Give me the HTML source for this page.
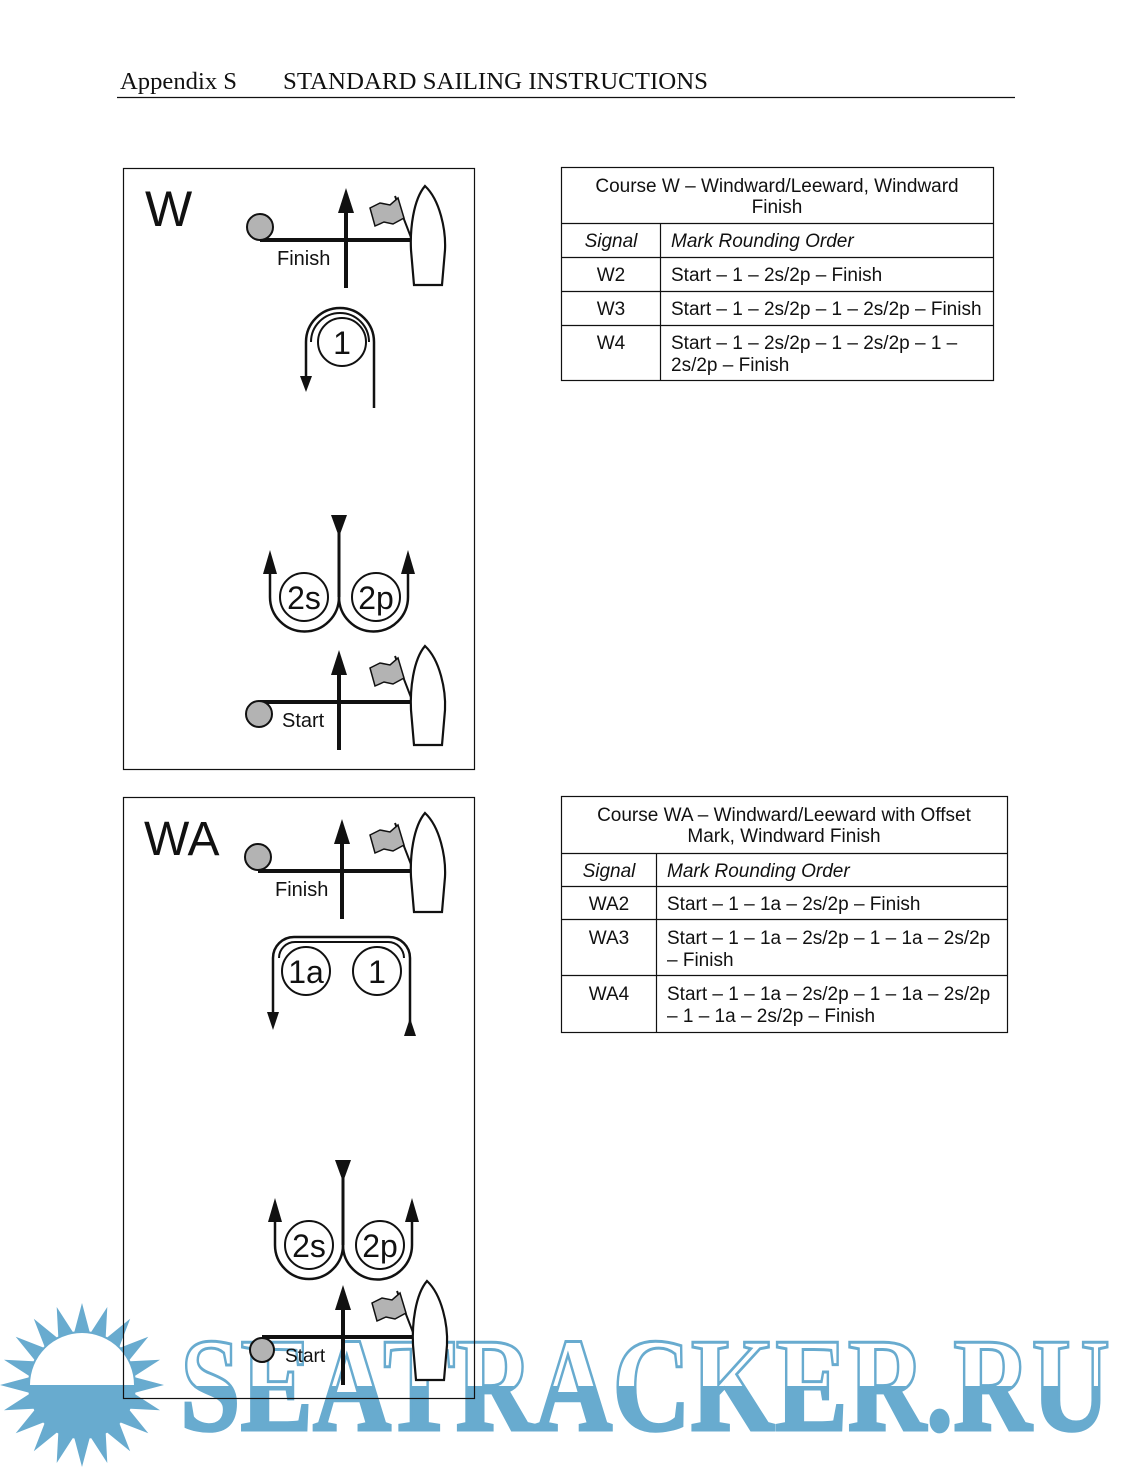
<!DOCTYPE html>
<html><head><meta charset="utf-8"><style>
html,body{margin:0;padding:0;background:#fff;}
svg{display:block;}
text{font-family:"Liberation Sans",sans-serif;fill:#111;}
.serif{font-family:"Liberation Serif",serif;}
</style></head><body>
<svg width="1127" height="1467" viewBox="0 0 1127 1467" xmlns="http://www.w3.org/2000/svg">
<defs>
<linearGradient id="wm" gradientUnits="userSpaceOnUse" x1="0" y1="1340" x2="0" y2="1432">
<stop offset="0" stop-color="#fff"/><stop offset="0.5" stop-color="#fff"/><stop offset="0.5" stop-color="#68abcf"/><stop offset="1" stop-color="#68abcf"/>
</linearGradient>
<g id="vert">
<line x1="0" y1="-30" x2="0" y2="48" stroke="#111" stroke-width="4"/>
<polygon points="0,-52 -8,-27 8,-27" fill="#111"/>
</g>
<g id="boat">
<line x1="-17" y1="-44" x2="0" y2="0" stroke="#111" stroke-width="2"/>
<polygon points="-42,-32 -32,-37 -22,-35 -14,-42 -8,-22 -19,-16 -28,-18 -37,-14" fill="#b3b3b3" stroke="#111" stroke-width="1.5"/>
<path d="M13 -54 C28 -40 34 -10 33 10 L30 45 L2 45 L-1 10 C-2 -10 1 -40 13 -54 Z" fill="#fff" stroke="#111" stroke-width="2.2"/>
</g>
</defs>

<!-- header -->
<text class="serif" x="120" y="89" font-size="24" textLength="117" lengthAdjust="spacingAndGlyphs">Appendix S</text>
<text class="serif" x="283" y="89" font-size="24" textLength="425" lengthAdjust="spacingAndGlyphs">STANDARD SAILING INSTRUCTIONS</text>
<line x1="117" y1="97.5" x2="1015" y2="97.5" stroke="#111" stroke-width="1.3"/>

<!-- W box -->
<rect x="123.5" y="168.5" width="351" height="601" fill="none" stroke="#111" stroke-width="1.2"/>
<text x="145" y="226" font-size="50">W</text>
<line x1="260" y1="240" x2="412" y2="240" stroke="#111" stroke-width="4"/>
<circle cx="260" cy="227" r="13" fill="#b3b3b3" stroke="#111" stroke-width="2"/>
<use href="#vert" x="346" y="240"/>
<use href="#boat" x="412" y="240"/>
<text x="277" y="265" font-size="20">Finish</text>
<circle cx="342" cy="342" r="24" fill="none" stroke="#111" stroke-width="2"/>
<text x="342" y="354" font-size="32" text-anchor="middle">1</text>
<path d="M374 408 L374 342 A34 34 0 0 0 306 342 L306 382" fill="none" stroke="#111" stroke-width="2.5"/>
<path d="M369 342 A29 29 0 0 0 311 342" fill="none" stroke="#111" stroke-width="2"/>
<polygon points="306,392 300,376 312,376" fill="#111"/>
<!-- gate W -->
<line x1="339" y1="520" x2="339" y2="597" stroke="#111" stroke-width="3"/>
<polygon points="339,537 331,515 347,515" fill="#111"/>
<circle cx="304" cy="597" r="24" fill="none" stroke="#111" stroke-width="2"/>
<circle cx="376" cy="597" r="24" fill="none" stroke="#111" stroke-width="2"/>
<text x="304" y="609" font-size="32" text-anchor="middle">2s</text>
<text x="376" y="609" font-size="32" text-anchor="middle">2p</text>
<path d="M339 597 A34 34 0 0 1 270 597 L270 570" fill="none" stroke="#111" stroke-width="2.5"/>
<path d="M339 597 A34 34 0 0 0 408 597 L408 570" fill="none" stroke="#111" stroke-width="2.5"/>
<polygon points="270,550 263,574 277,574" fill="#111"/>
<polygon points="408,550 401,574 415,574" fill="#111"/>
<!-- start W -->
<line x1="260" y1="702" x2="412" y2="702" stroke="#111" stroke-width="4"/>
<circle cx="259" cy="714" r="13" fill="#b3b3b3" stroke="#111" stroke-width="2"/>
<use href="#vert" x="339" y="702"/>
<use href="#boat" x="412" y="700"/>
<text x="282" y="727" font-size="20">Start</text>

<!-- W table -->
<g stroke="#111" stroke-width="1.2" fill="none">
<rect x="561.5" y="167.5" width="432" height="213"/>
<line x1="561" y1="223.5" x2="994" y2="223.5"/>
<line x1="561" y1="257.5" x2="994" y2="257.5"/>
<line x1="561" y1="291.5" x2="994" y2="291.5"/>
<line x1="561" y1="325.5" x2="994" y2="325.5"/>
<line x1="660.5" y1="223" x2="660.5" y2="381"/>
</g>
<g font-size="19">
<text x="777" y="192" text-anchor="middle">Course W – Windward/Leeward, Windward</text>
<text x="777" y="213" text-anchor="middle">Finish</text>
<text x="611" y="247" text-anchor="middle" font-style="italic">Signal</text>
<text x="671" y="247" font-style="italic">Mark Rounding Order</text>
<text x="611" y="281" text-anchor="middle">W2</text>
<text x="671" y="281">Start – 1 – 2s/2p – Finish</text>
<text x="611" y="315" text-anchor="middle">W3</text>
<text x="671" y="315">Start – 1 – 2s/2p – 1 – 2s/2p – Finish</text>
<text x="611" y="349" text-anchor="middle">W4</text>
<text x="671" y="349">Start – 1 – 2s/2p – 1 – 2s/2p – 1 –</text>
<text x="671" y="371">2s/2p – Finish</text>
</g>

<!-- WA table -->
<g stroke="#111" stroke-width="1.2" fill="none">
<rect x="561.5" y="796.5" width="446" height="236"/>
<line x1="561" y1="853.5" x2="1008" y2="853.5"/>
<line x1="561" y1="886.5" x2="1008" y2="886.5"/>
<line x1="561" y1="919.5" x2="1008" y2="919.5"/>
<line x1="561" y1="975.5" x2="1008" y2="975.5"/>
<line x1="656.5" y1="853" x2="656.5" y2="1033"/>
</g>
<g font-size="19">
<text x="784" y="821" text-anchor="middle">Course WA – Windward/Leeward with Offset</text>
<text x="784" y="842" text-anchor="middle">Mark, Windward Finish</text>
<text x="609" y="877" text-anchor="middle" font-style="italic">Signal</text>
<text x="667" y="877" font-style="italic">Mark Rounding Order</text>
<text x="609" y="910" text-anchor="middle">WA2</text>
<text x="667" y="910">Start – 1 – 1a – 2s/2p – Finish</text>
<text x="609" y="944" text-anchor="middle">WA3</text>
<text x="667" y="944">Start – 1 – 1a – 2s/2p – 1 – 1a – 2s/2p</text>
<text x="667" y="966">– Finish</text>
<text x="609" y="1000" text-anchor="middle">WA4</text>
<text x="667" y="1000">Start – 1 – 1a – 2s/2p – 1 – 1a – 2s/2p</text>
<text x="667" y="1022">– 1 – 1a – 2s/2p – Finish</text>
</g>

<!-- watermark -->
<polygon fill="#68abcf" points="164,1385 133.4,1393.1 160,1410.3 128.3,1408.6 148.3,1433.2 118.8,1421.8 130.2,1451.3 105.6,1431.3 107.3,1463 90.1,1436.4 82,1467 73.9,1436.4 56.7,1463 58.4,1431.3 33.8,1451.3 45.2,1421.8 15.7,1433.2 35.7,1408.6 4,1410.3 30.6,1393.1 0,1385 30.6,1376.9 4,1359.7 35.7,1361.4 15.7,1336.8 45.2,1348.2 33.8,1318.7 58.4,1338.7 56.7,1307 73.9,1333.6 82,1303 90.1,1333.6 107.3,1307 105.6,1338.7 130.2,1318.7 118.8,1348.2 148.3,1336.8 128.3,1361.4 160,1359.7 133.4,1376.9"/>
<circle cx="82" cy="1385" r="54" fill="#68abcf"/>
<path d="M30 1385 A52 52 0 0 1 134 1385 Z" fill="#fff"/>
<text class="serif" x="180" y="1430" font-size="134" font-weight="bold" textLength="930" lengthAdjust="spacingAndGlyphs" style="fill:url(#wm)" stroke="#68abcf" stroke-width="3">SEATRACKER.RU</text>

<!-- WA box -->
<rect x="123.5" y="797.5" width="351" height="601" fill="none" stroke="#111" stroke-width="1.2"/>
<text x="144" y="855" font-size="48">WA</text>
<line x1="258" y1="871" x2="412" y2="871" stroke="#111" stroke-width="4"/>
<circle cx="258" cy="857" r="13" fill="#b3b3b3" stroke="#111" stroke-width="2"/>
<use href="#vert" x="342" y="871"/>
<use href="#boat" x="412" y="867"/>
<text x="275" y="896" font-size="20">Finish</text>
<circle cx="306" cy="971" r="24" fill="none" stroke="#111" stroke-width="2"/>
<circle cx="377" cy="971" r="24" fill="none" stroke="#111" stroke-width="2"/>
<text x="306" y="983" font-size="32" text-anchor="middle">1a</text>
<text x="377" y="983" font-size="32" text-anchor="middle">1</text>
<path d="M273 1020 L273 958 A21 21 0 0 1 294 937 L389 937 A21 21 0 0 1 410 958 L410 1030" fill="none" stroke="#111" stroke-width="2.5"/>
<path d="M279 958 A16 16 0 0 1 295 942 L388 942 A16 16 0 0 1 404 958" fill="none" stroke="#111" stroke-width="2"/>
<polygon points="273,1030 267,1012 279,1012" fill="#111"/>
<polygon points="410,1018 404,1036 416,1036" fill="#111"/>
<!-- gate WA -->
<line x1="343" y1="1165" x2="343" y2="1245" stroke="#111" stroke-width="3"/>
<polygon points="343,1182 335,1160 351,1160" fill="#111"/>
<circle cx="309" cy="1245" r="24" fill="none" stroke="#111" stroke-width="2"/>
<circle cx="380" cy="1245" r="24" fill="none" stroke="#111" stroke-width="2"/>
<text x="309" y="1257" font-size="32" text-anchor="middle">2s</text>
<text x="380" y="1257" font-size="32" text-anchor="middle">2p</text>
<path d="M343 1245 A34 34 0 0 1 275 1245 L275 1218" fill="none" stroke="#111" stroke-width="2.5"/>
<path d="M343 1245 A34 34 0 0 0 412 1245 L412 1218" fill="none" stroke="#111" stroke-width="2.5"/>
<polygon points="275,1198 268,1222 282,1222" fill="#111"/>
<polygon points="412,1198 405,1222 419,1222" fill="#111"/>
<!-- start WA -->
<line x1="262" y1="1337" x2="414" y2="1337" stroke="#111" stroke-width="4"/>
<circle cx="262" cy="1350" r="12" fill="#b3b3b3" stroke="#111" stroke-width="2"/>
<use href="#vert" x="343" y="1337"/>
<use href="#boat" x="414" y="1335"/>
<text x="285" y="1362" font-size="19">Start</text>
</svg>
</body></html>
